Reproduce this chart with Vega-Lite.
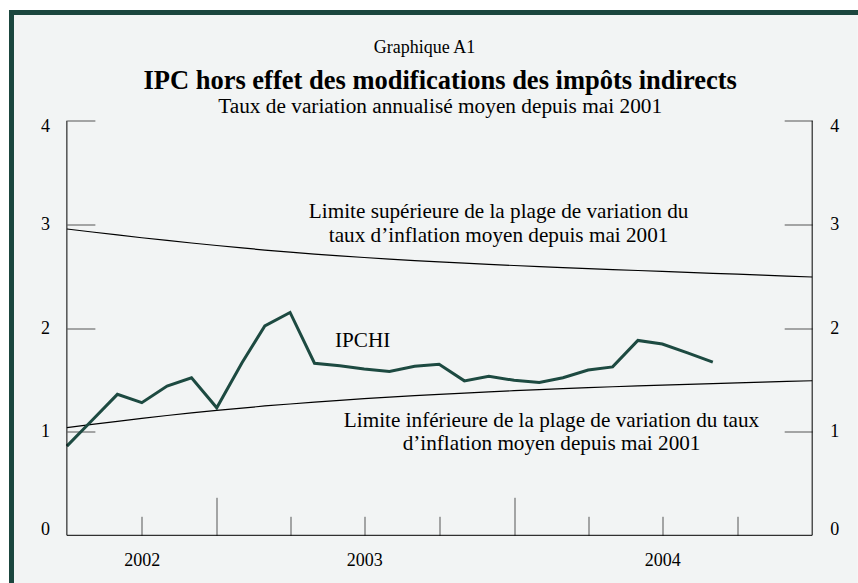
{
  "$schema": "https://vega.github.io/schema/vega-lite/v6.json",
  "width": 846.3,
  "height": 570.5,
  "autosize": {"type": "none"},
  "padding": {"left": 11.5, "top": 12.5, "right": 0.2, "bottom": 0},
  "background": "white",
  "config": {
    "view": {"stroke": null, "fill": "#f2f4f4"},
    "font": "Liberation Serif",
    "axis": {"labelFont": "Liberation Serif", "labelFontSize": 18, "labelColor": "#000", "tickColor": "#555", "tickWidth": 1, "titleFont": "Liberation Serif", "grid": false, "labelFlush": false, "labelOverlap": false, "domain": false}
  },
  "title": {
    "text": "IPC hors effet des modifications des impôts indirects",
    "subtitle": "Taux de variation annualisé moyen depuis mai 2001",
    "font": "Liberation Serif", "fontSize": 26.5, "fontWeight": "bold", "color": "#000",
    "subtitleFont": "Liberation Serif", "subtitleFontSize": 21.3, "subtitleColor": "#000", "subtitlePadding": 2,
    "anchor": "middle", "frame": "group", "offset": -108.5, "dx": 5.5
  },
  "datasets": {
    "bordure": [
      {"debut": "2002-04-24", "fin": "2002-04-24", "bas": -0.4602, "haut": 5.044},
      {"debut": "2002-04-24", "fin": "2005-02-26", "bas": 5.044, "haut": 5.044}
    ],
    "ipchi": [
      {"date": "2002-07-01", "valeur": 0.86},
      {"date": "2002-08-01", "valeur": 1.11},
      {"date": "2002-09-01", "valeur": 1.36},
      {"date": "2002-10-01", "valeur": 1.28},
      {"date": "2002-11-01", "valeur": 1.44},
      {"date": "2002-12-01", "valeur": 1.52},
      {"date": "2003-01-01", "valeur": 1.23},
      {"date": "2003-02-01", "valeur": 1.665},
      {"date": "2003-03-01", "valeur": 2.02},
      {"date": "2003-04-01", "valeur": 2.15},
      {"date": "2003-05-01", "valeur": 1.66},
      {"date": "2003-06-01", "valeur": 1.635},
      {"date": "2003-07-01", "valeur": 1.605},
      {"date": "2003-08-01", "valeur": 1.58},
      {"date": "2003-09-01", "valeur": 1.63},
      {"date": "2003-10-01", "valeur": 1.65},
      {"date": "2003-11-01", "valeur": 1.49},
      {"date": "2003-12-01", "valeur": 1.535},
      {"date": "2004-01-01", "valeur": 1.495},
      {"date": "2004-02-01", "valeur": 1.475},
      {"date": "2004-03-01", "valeur": 1.52},
      {"date": "2004-04-01", "valeur": 1.595},
      {"date": "2004-05-01", "valeur": 1.625},
      {"date": "2004-06-01", "valeur": 1.88},
      {"date": "2004-07-01", "valeur": 1.845},
      {"date": "2004-08-01", "valeur": 1.76},
      {"date": "2004-09-01", "valeur": 1.67}
    ],
    "plage": [
      {"date": "2002-07-01", "serie": "haute", "valeur": 2.955},
      {"date": "2002-08-01", "serie": "haute", "valeur": 2.926},
      {"date": "2002-09-01", "serie": "haute", "valeur": 2.898},
      {"date": "2002-10-01", "serie": "haute", "valeur": 2.871},
      {"date": "2002-11-01", "serie": "haute", "valeur": 2.845},
      {"date": "2002-12-01", "serie": "haute", "valeur": 2.82},
      {"date": "2003-01-01", "serie": "haute", "valeur": 2.796},
      {"date": "2003-02-01", "serie": "haute", "valeur": 2.773},
      {"date": "2003-03-01", "serie": "haute", "valeur": 2.752},
      {"date": "2003-04-01", "serie": "haute", "valeur": 2.732},
      {"date": "2003-05-01", "serie": "haute", "valeur": 2.713},
      {"date": "2003-06-01", "serie": "haute", "valeur": 2.696},
      {"date": "2003-07-01", "serie": "haute", "valeur": 2.68},
      {"date": "2003-08-01", "serie": "haute", "valeur": 2.665},
      {"date": "2003-09-01", "serie": "haute", "valeur": 2.651},
      {"date": "2003-10-01", "serie": "haute", "valeur": 2.638},
      {"date": "2003-11-01", "serie": "haute", "valeur": 2.626},
      {"date": "2003-12-01", "serie": "haute", "valeur": 2.614},
      {"date": "2004-01-01", "serie": "haute", "valeur": 2.603},
      {"date": "2004-02-01", "serie": "haute", "valeur": 2.593},
      {"date": "2004-03-01", "serie": "haute", "valeur": 2.583},
      {"date": "2004-04-01", "serie": "haute", "valeur": 2.573},
      {"date": "2004-05-01", "serie": "haute", "valeur": 2.564},
      {"date": "2004-06-01", "serie": "haute", "valeur": 2.555},
      {"date": "2004-07-01", "serie": "haute", "valeur": 2.546},
      {"date": "2004-08-01", "serie": "haute", "valeur": 2.537},
      {"date": "2004-09-01", "serie": "haute", "valeur": 2.528},
      {"date": "2004-10-01", "serie": "haute", "valeur": 2.519},
      {"date": "2004-11-01", "serie": "haute", "valeur": 2.51},
      {"date": "2004-12-01", "serie": "haute", "valeur": 2.501},
      {"date": "2005-01-01", "serie": "haute", "valeur": 2.492},
      {"date": "2002-07-01", "serie": "basse", "valeur": 1.038},
      {"date": "2002-08-01", "serie": "basse", "valeur": 1.07},
      {"date": "2002-09-01", "serie": "basse", "valeur": 1.1},
      {"date": "2002-10-01", "serie": "basse", "valeur": 1.129},
      {"date": "2002-11-01", "serie": "basse", "valeur": 1.156},
      {"date": "2002-12-01", "serie": "basse", "valeur": 1.181},
      {"date": "2003-01-01", "serie": "basse", "valeur": 1.205},
      {"date": "2003-02-01", "serie": "basse", "valeur": 1.227},
      {"date": "2003-03-01", "serie": "basse", "valeur": 1.248},
      {"date": "2003-04-01", "serie": "basse", "valeur": 1.267},
      {"date": "2003-05-01", "serie": "basse", "valeur": 1.285},
      {"date": "2003-06-01", "serie": "basse", "valeur": 1.302},
      {"date": "2003-07-01", "serie": "basse", "valeur": 1.318},
      {"date": "2003-08-01", "serie": "basse", "valeur": 1.333},
      {"date": "2003-09-01", "serie": "basse", "valeur": 1.347},
      {"date": "2003-10-01", "serie": "basse", "valeur": 1.36},
      {"date": "2003-11-01", "serie": "basse", "valeur": 1.372},
      {"date": "2003-12-01", "serie": "basse", "valeur": 1.384},
      {"date": "2004-01-01", "serie": "basse", "valeur": 1.395},
      {"date": "2004-02-01", "serie": "basse", "valeur": 1.405},
      {"date": "2004-03-01", "serie": "basse", "valeur": 1.415},
      {"date": "2004-04-01", "serie": "basse", "valeur": 1.424},
      {"date": "2004-05-01", "serie": "basse", "valeur": 1.433},
      {"date": "2004-06-01", "serie": "basse", "valeur": 1.441},
      {"date": "2004-07-01", "serie": "basse", "valeur": 1.449},
      {"date": "2004-08-01", "serie": "basse", "valeur": 1.457},
      {"date": "2004-09-01", "serie": "basse", "valeur": 1.464},
      {"date": "2004-10-01", "serie": "basse", "valeur": 1.471},
      {"date": "2004-11-01", "serie": "basse", "valeur": 1.478},
      {"date": "2004-12-01", "serie": "basse", "valeur": 1.485},
      {"date": "2005-01-01", "serie": "basse", "valeur": 1.491}
    ],
    "cadre": [
      {"debut": "2002-07-01", "fin": "2002-07-01", "bas": 0, "haut": 4},
      {"debut": "2005-01-01", "fin": "2005-01-01", "bas": 0, "haut": 4},
      {"debut": "2002-07-01", "fin": "2005-01-01", "bas": 0, "haut": 0}
    ],
    "notes": [
      {"date": "2003-06-29", "valeur": 1.82, "texte": "IPCHI"},
      {"date": "2003-12-13", "valeur": 3.063, "texte": "Limite supérieure de la plage de variation du\ntaux d’inflation moyen depuis mai 2001"},
      {"date": "2004-02-16", "valeur": 1.048, "texte": "Limite inférieure de la plage de variation du taux\nd’inflation moyen depuis mai 2001"}
    ]
  },
  "layer": [
    {
      "data": {"name": "bordure"},
      "mark": {"type": "rule", "color": "#1b463e", "strokeWidth": 5, "strokeCap": "square"},
      "encoding": {
        "x": {"field": "debut", "type": "temporal",
          "scale": {"type": "utc", "nice": false, "domain": [{"year": 2002, "month": 4, "date": 24, "utc": true}, {"year": 2005, "month": 2, "date": 26, "utc": true}]},
          "axis": null},
        "x2": {"field": "fin"},
        "y": {"field": "bas", "type": "quantitative", "scale": {"domain": [-0.4602, 5.044], "nice": false, "zero": false}, "axis": null},
        "y2": {"field": "haut"}
      }
    },
    {
      "data": {"name": "plage"},
      "mark": {"type": "line", "color": "#000", "strokeWidth": 1.2},
      "encoding": {
        "x": {"field": "date", "type": "temporal",
          "scale": {"type": "utc", "nice": false, "domain": [{"year": 2002, "month": 4, "date": 24, "utc": true}, {"year": 2005, "month": 2, "date": 26, "utc": true}]},
          "axis": {"orient": "bottom", "offset": -47.7, "title": null, "labels": false, "domain": false, "tickSize": -19,
            "values": [{"year": 2002, "month": 10, "date": 1, "utc": true}, {"year": 2003, "month": 4, "date": 1, "utc": true}, {"year": 2003, "month": 7, "date": 1, "utc": true}, {"year": 2003, "month": 10, "date": 1, "utc": true}, {"year": 2004, "month": 4, "date": 1, "utc": true}, {"year": 2004, "month": 7, "date": 1, "utc": true}, {"year": 2004, "month": 10, "date": 1, "utc": true}]}},
        "y": {"field": "valeur", "type": "quantitative",
          "scale": {"domain": [-0.4602, 5.044], "nice": false, "zero": false},
          "axis": {"orient": "left", "offset": -55.39, "title": null, "domain": false, "values": [0, 1, 2, 3, 4], "tickSize": -28, "labelAlign": "center", "labelBaseline": "middle", "labelPadding": 50, "labelFont": "Liberation Serif", "labelFontSize": 18,
            "tickOpacity": {"condition": {"test": "datum.value === 0", "value": 0}, "value": 1},
            "labelOffset": {"condition": [{"test": "datum.value === 4", "value": 5.5}, {"test": "datum.value === 0", "value": -5.6}], "value": 0}}},
        "detail": {"field": "serie"}
      }
    },
    {
      "data": {"name": "ipchi"},
      "mark": {"type": "line", "color": "#1d4a41", "strokeWidth": 3},
      "encoding": {
        "x": {"field": "date", "type": "temporal",
          "scale": {"type": "utc", "nice": false, "domain": [{"year": 2002, "month": 4, "date": 24, "utc": true}, {"year": 2005, "month": 2, "date": 26, "utc": true}]},
          "axis": {"orient": "bottom", "offset": -47.7, "title": null, "labels": false, "domain": false, "tickSize": -38,
            "values": [{"year": 2003, "month": 1, "date": 1, "utc": true}, {"year": 2004, "month": 1, "date": 1, "utc": true}]}},
        "y": {"field": "valeur", "type": "quantitative",
          "scale": {"domain": [-0.4602, 5.044], "nice": false, "zero": false},
          "axis": {"orient": "right", "offset": -45.61, "title": null, "domain": false, "values": [0, 1, 2, 3, 4], "tickSize": -28, "labelAlign": "center", "labelBaseline": "middle", "labelPadding": 50, "labelFont": "Liberation Serif", "labelFontSize": 18,
            "tickOpacity": {"condition": {"test": "datum.value === 0", "value": 0}, "value": 1},
            "labelOffset": {"condition": [{"test": "datum.value === 4", "value": 5.5}, {"test": "datum.value === 0", "value": -5.6}], "value": 0}}}
      }
    },
    {
      "data": {"name": "cadre"},
      "mark": {"type": "rule", "color": "#000", "strokeWidth": 1},
      "encoding": {
        "x": {"field": "debut", "type": "temporal",
          "scale": {"type": "utc", "nice": false, "domain": [{"year": 2002, "month": 4, "date": 24, "utc": true}, {"year": 2005, "month": 2, "date": 26, "utc": true}]},
          "axis": {"orient": "bottom", "offset": -47.7, "title": null, "ticks": false, "domain": false, "format": "%Y", "labelPadding": 16, "labelBaseline": "top", "labelFont": "Liberation Serif", "labelFontSize": 18,
            "values": [{"year": 2002, "month": 10, "date": 1, "utc": true}, {"year": 2003, "month": 7, "date": 1, "utc": true}, {"year": 2004, "month": 7, "date": 1, "utc": true}]}},
        "x2": {"field": "fin"},
        "y": {"field": "bas", "type": "quantitative", "scale": {"domain": [-0.4602, 5.044], "nice": false, "zero": false}, "axis": null},
        "y2": {"field": "haut"}
      }
    },
    {
      "data": {"name": "notes"},
      "mark": {"type": "text", "font": "Liberation Serif", "fontSize": 21.2, "lineBreak": "\n", "lineHeight": 23.7, "align": "center", "baseline": "alphabetic", "color": "#000"},
      "encoding": {
        "x": {"field": "date", "type": "temporal",
          "scale": {"type": "utc", "nice": false, "domain": [{"year": 2002, "month": 4, "date": 24, "utc": true}, {"year": 2005, "month": 2, "date": 26, "utc": true}]},
          "axis": {"orient": "top", "offset": 0, "labels": false, "ticks": false, "domain": false, "title": "Graphique A1", "titleFont": "Liberation Serif", "titleFontSize": 18, "titleFontWeight": "normal", "titleColor": "#000", "titleX": 412.5, "titleY": 40, "titleAlign": "center", "titleBaseline": "alphabetic", "titleAngle": 0}},
        "y": {"field": "valeur", "type": "quantitative", "scale": {"domain": [-0.4602, 5.044], "nice": false, "zero": false}, "axis": null},
        "text": {"field": "texte"}
      }
    }
  ],
  "resolve": {"axis": {"x": "independent", "y": "independent"}}
}
